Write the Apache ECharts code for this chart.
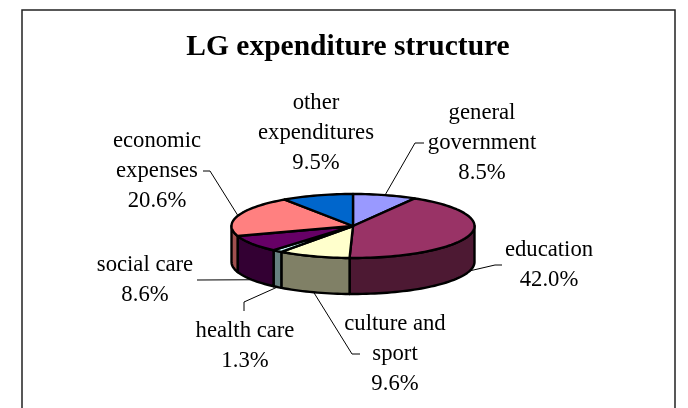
<!DOCTYPE html>
<html>
<head>
<meta charset="utf-8">
<style>
  html, body { margin: 0; padding: 0; background: #fff; }
  #chart { width: 688px; height: 408px; }
</style>
<script src="https://cdn.jsdelivr.net/npm/echarts@6/dist/echarts.min.js"></script>
</head>
<body>
<div id="chart"></div>
<script>
var titleText = 'LG expenditure structure'
var categories = ['general\ngovernment', 'education', 'culture and\nsport', 'health care', 'social care', 'economic\nexpenses', 'other\nexpenditures']
var shares = [8.5, 42.0, 9.6, 1.3, 8.6, 20.6, 9.5]

var topColors = ['#9999ff', '#993366', '#ffffcc', '#ccffff', '#660066', '#ff8080', '#0066cc']
var sideColors = ['#4d4d80', '#4d1933', '#808066', '#668080', '#330033', '#a0504f', '#003366']
// centre of each label block, then where its leader line bends
var labelCentres = [[482, 143], [549, 265], [395, 354], [245, 346], [145, 280], [157, 171], [316, 133]]
var leaderBends = [[[415, 143], [424, 143]], [[495, 265], [502, 265]], [[352, 354], [360, 354]], [[244, 302], [244, 311]], [[197, 280]], [[210, 171], [203, 171]], null]

var cx = 353, cy = 226, rx = 121.5, ry = 32, depth = 36
var total = shares.reduce(function (a, b) { return a + b }, 0)
var starts = []
shares.reduce(function (sum, v, i) { starts[i] = sum; return sum + v }, 0)

function rim(deg, drop) {
  var r = deg * Math.PI / 180
  return [cx + rx * Math.sin(r), cy - ry * Math.cos(r) + (drop || 0)]
}

function arc(from, to, drop) {
  var pts = []
  var n = Math.max(2, Math.ceil((to - from) / 2))
  for (var k = 0; k <= n; k++) {
    pts.push(rim(from + (to - from) * k / n, drop))
  }
  return pts
}

function renderSlice(params, api) {
  var i = params.dataIndex
  var from = starts[i] / total * 360
  var to = from + api.value(0) / total * 360
  var mid = (from + to) / 2
  var line = { stroke: '#000', lineWidth: 2.4, lineJoin: 'round' }
  var children = []

  // the wall is only seen on the front half of the ellipse
  var wallFrom = Math.max(from, 90)
  var wallTo = Math.min(to, 270)
  if (wallTo > wallFrom) {
    children.push({
      type: 'polygon',
      z2: 1,
      shape: { points: arc(wallFrom, wallTo, 0).concat(arc(wallFrom, wallTo, depth).reverse()) },
      style: Object.assign({ fill: sideColors[i] }, line)
    })
  }
  children.push({
    type: 'polygon',
    z2: 2,
    shape: { points: [[cx, cy]].concat(arc(from, to, 0)) },
    style: Object.assign({ fill: topColors[i] }, line)
  })

  if (leaderBends[i]) {
    var front = mid > 90 && mid < 270
    children.push({
      type: 'polyline',
      z2: 0,
      shape: { points: [rim(mid, front ? depth : 0)].concat(leaderBends[i]) },
      style: { stroke: '#000', lineWidth: 1, fill: null }
    })
  }
  children.push({
    type: 'text',
    z2: 3,
    style: {
      x: labelCentres[i][0],
      y: labelCentres[i][1],
      text: categories[i] + '\n' + shares[i].toFixed(1) + '%',
      fill: '#000',
      font: '22.7px "Liberation Serif"',
      lineHeight: 30,
      align: 'center',
      verticalAlign: 'middle'
    }
  })
  return { type: 'group', children: children }
}

var chart = echarts.init(document.getElementById('chart'), null, { renderer: 'canvas' })
chart.setOption({
  animation: false,
  backgroundColor: '#fff',
  title: {
    text: titleText,
    left: 343,
    top: 27,
    textAlign: 'center',
    textStyle: { fontFamily: 'Liberation Serif', fontSize: 29.5, fontWeight: 'bold', color: '#000' }
  },
  graphic: [{
    type: 'rect',
    silent: true,
    shape: { x: 22, y: 10, width: 653, height: 420 },
    style: { fill: null, stroke: '#222', lineWidth: 1.5 }
  }],
  series: [{
    type: 'custom',
    coordinateSystem: 'none',
    silent: true,
    renderItem: renderSlice,
    data: shares.map(function (v, i) { return { name: categories[i], value: [v] } })
  }]
})
</script>
</body>
</html>
